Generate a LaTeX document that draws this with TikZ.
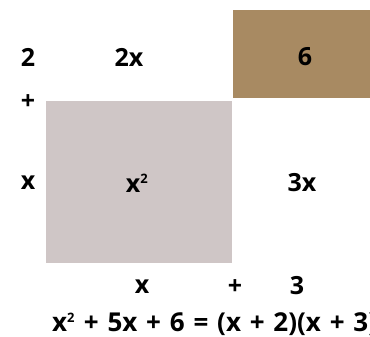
\documentclass[tikz,border=0pt]{standalone}
\usepackage{fontspec}
\setmainfont{Open Sans}
\usetikzlibrary{positioning}
\definecolor{tileBrown}{RGB}{168,138,98}
\definecolor{tileGray}{RGB}{207,198,198}
\newcommand{\sqsup}{\textsuperscript{\fontsize{13}{13}\selectfont 2}}

\begin{document}
\begin{tikzpicture}[x=1pt, y=-1pt, every node/.style={font=\fontsize{25}{30}\selectfont\bfseries, inner sep=0pt}]
			\useasboundingbox (0,0) rectangle (370,337);
			% tiles
			\fill[tileGray] (46,101) rectangle (232,263);
			\fill[tileBrown] (233,10) rectangle (375,98);
			% side labels
			\node (two) at (28,57) {2};
			\node (plusL) at (28,102) {+};
			\node (xL) at (28,183) {x};
			% tile labels
			\node (twox) at (129,57) {2x};
			\node (six) at (305,57) {6};
			\node (xsq) at (137,183) {x\sqsup};
			\node (threex) at (302,183) {3x};
			% bottom labels
			\node (xB) at (142,287) {x};
			\node (plusB) at (235,287) {+};
			\node (threeB) at (297,286) {3};
			\node[anchor=west, font=\fontsize{26}{30}\selectfont\bfseries] (eqn) at (52,324) {\spaceskip=8.8pt x\sqsup{} + 5x + 6 = (x + 2)(x + 3)};
		\end{tikzpicture}
\end{document}
